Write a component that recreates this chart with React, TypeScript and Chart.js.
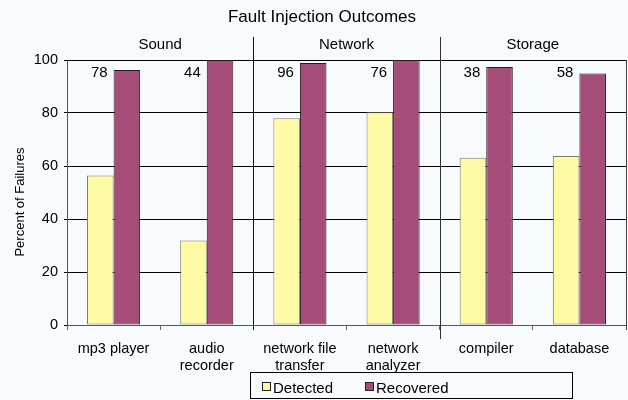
import React, { useEffect, useRef } from "react";
import { Chart, registerables } from "chart.js";

Chart.register(...registerables);

const categories: (string | string[])[] = [
  "mp3 player",
  ["audio", "recorder"],
  ["network file", "transfer"],
  ["network", "analyzer"],
  "compiler",
  "database",
];
const detected = [56.4, 31.9, 78.0, 80.3, 63.1, 63.8];
const recovered = [96.2, 100, 98.9, 100, 97.4, 94.9];
const annotations = ["78", "44", "96", "76", "38", "58"];
const groups = ["Sound", "Network", "Storage"];
const groupSizes = [2, 2, 2];
const yTicks = [0, 20, 40, 60, 80, 100];
const title = "Fault Injection Outcomes";
const yTitle = "Percent of Failures";
const seriesNames = ["Detected", "Recovered"];

const FONT = "'Liberation Sans', Arial, Helvetica, sans-serif";
const BG = "#F7FBFD";
const YELLOW = "#FFFAA6";
const YELLOW_BORDER = "#7C7C6C";
const PURPLE = "#A54D78";
const PURPLE_BORDER = "#2C1622";

const decorPlugin = {
  id: "decor",
  beforeDraw(chart: any) {
    const ctx = chart.ctx;
    ctx.save();
    ctx.fillStyle = BG;
    ctx.fillRect(0, 0, chart.width, chart.height);
    ctx.restore();
  },
  afterDraw(chart: any) {
    const ctx = chart.ctx;
    const area = chart.chartArea;
    const xs = chart.scales.x;
    const ys = chart.scales.y;
    ctx.save();

    // right border of plot
    ctx.strokeStyle = "#444";
    ctx.lineWidth = 1;
    ctx.beginPath();
    ctx.moveTo(Math.round(area.right) + 0.5, area.top);
    ctx.lineTo(Math.round(area.right) + 0.5, area.bottom + 5);
    ctx.stroke();

    // group separators and labels
    let start = 0;
    const half = (xs.getPixelForValue(1) - xs.getPixelForValue(0)) / 2;
    groups.forEach((g, gi) => {
      const end = start + groupSizes[gi] - 1;
      const left = xs.getPixelForValue(start) - half;
      const right = xs.getPixelForValue(end) + half;
      ctx.fillStyle = "#000";
      ctx.font = `15px ${FONT}`;
      ctx.textAlign = "center";
      ctx.textBaseline = "alphabetic";
      ctx.fillText(g, (left + right) / 2, 49);
      if (gi < groups.length - 1) {
        const x = Math.round(right) + 0.5;
        ctx.strokeStyle = gi === 0 ? "#111" : "#333";
        ctx.beginPath();
        ctx.moveTo(x, 37);
        ctx.lineTo(x, area.bottom + (gi === 0 ? 5 : 14));
        ctx.stroke();
      }
      start = end + 1;
    });

    // title
    ctx.fillStyle = "#000";
    ctx.font = `17px ${FONT}`;
    ctx.textAlign = "center";
    ctx.fillText(title, 322, 21.5);

    // annotations left of recovered bars
    const meta = chart.getDatasetMeta(1);
    ctx.font = `15px ${FONT}`;
    ctx.textAlign = "right";
    annotations.forEach((t, i) => {
      const bar = meta.data[i];
      const x = bar.x - bar.width / 2 - 6;
      const y = ys.getPixelForValue(93.4);
      ctx.fillText(t, x, y);
    });

    // y axis title
    ctx.save();
    ctx.translate(20, 202);
    ctx.rotate(-Math.PI / 2);
    ctx.font = `13px ${FONT}`;
    ctx.textAlign = "center";
    ctx.textBaseline = "middle";
    ctx.fillText(yTitle, 0, 0);
    ctx.restore();

    // legend
    ctx.strokeStyle = "#000";
    ctx.strokeRect(250.5, 372.5, 322, 26);
    const items = [
      { x: 262, fill: YELLOW, label: seriesNames[0] },
      { x: 365, fill: PURPLE, label: seriesNames[1] },
    ];
    ctx.font = `15px ${FONT}`;
    ctx.textAlign = "left";
    ctx.textBaseline = "alphabetic";
    items.forEach((it) => {
      ctx.fillStyle = it.fill;
      ctx.fillRect(it.x + 0.5, 382.5, 8, 8);
      ctx.strokeStyle = "#222";
      ctx.strokeRect(it.x + 0.5, 382.5, 8, 8);
      ctx.fillStyle = "#000";
      ctx.fillText(it.label, it.x + 11, 392.5);
    });

    ctx.restore();
  },
};

export default function App() {
  const ref = useRef<HTMLCanvasElement | null>(null);
  useEffect(() => {
    if (!ref.current) return;
    const chart = new Chart(ref.current, {
      type: "bar",
      data: {
        labels: categories as any,
        datasets: [
          {
            label: seriesNames[0],
            data: detected,
            backgroundColor: YELLOW,
            borderColor: YELLOW_BORDER,
            borderWidth: 1,
            borderSkipped: false,
          },
          {
            label: seriesNames[1],
            data: recovered,
            backgroundColor: PURPLE,
            borderColor: PURPLE_BORDER,
            borderWidth: 1,
            borderSkipped: false,
          },
        ],
      },
      options: {
        responsive: false,
        animation: false,
        devicePixelRatio: 1,
        layout: { padding: { left: 0, right: 2, top: 60, bottom: 0 } },
        datasets: { bar: { categoryPercentage: 0.57, barPercentage: 1 } },
        plugins: {
          legend: { display: false },
          title: { display: false },
          tooltip: { enabled: false },
        },
        scales: {
          x: {
            offset: true,
            grid: {
              offset: true,
              drawOnChartArea: false,
              drawTicks: true,
              tickLength: 5,
              color: "#666",
            },
            border: { display: true, color: "#555" },
            ticks: {
              color: "#000",
              font: { family: FONT, size: 14.5 },
              padding: 10,
              maxRotation: 0,
              autoSkip: false,
            },
            afterFit(scale: any) {
              scale.height = 75;
            },
          },
          y: {
            min: 0,
            max: 100,
            afterBuildTicks(scale: any) {
              scale.ticks = yTicks.map((v) => ({ value: v }));
            },
            grid: { color: "#000", tickLength: 3, drawTicks: true },
            border: { display: true, color: "#555" },
            ticks: {
              color: "#000",
              font: { family: FONT, size: 14.5 },
              padding: 6,
            },
            afterFit(scale: any) {
              scale.width = 67;
            },
          },
        },
      },
      plugins: [decorPlugin],
    });
    return () => chart.destroy();
  }, []);
  return (
    <div style={{ position: "absolute", left: 0, top: 0, width: 628, height: 400, background: BG }}>
      <canvas ref={ref} width={628} height={400} style={{ display: "block" }} />
    </div>
  );
}
